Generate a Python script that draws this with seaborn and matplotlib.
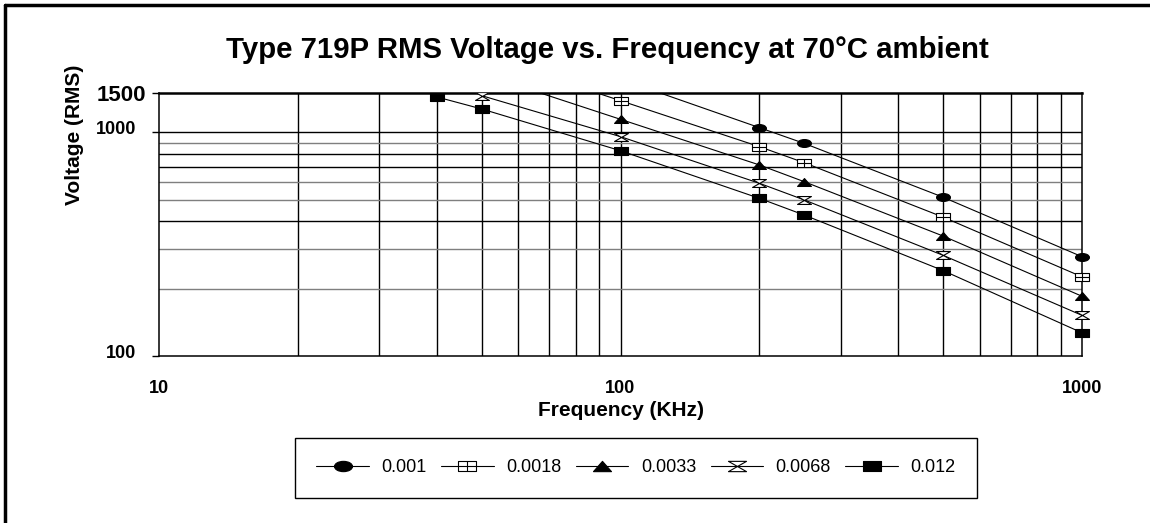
import numpy as np
import pandas as pd
import matplotlib
matplotlib.use("Agg")
import matplotlib.pyplot as plt
import seaborn as sns
from matplotlib.path import Path
from matplotlib.lines import Line2D
from matplotlib.ticker import FixedLocator, NullFormatter, NullLocator
from matplotlib.transforms import ScaledTranslation, Bbox, TransformedBbox

# ---------------- data ----------------
series_labels = ["0.001", "0.0018", "0.0033", "0.0068", "0.012"]
freq_0001 = [100, 200, 250, 500, 1000]
volt_0001 = [1730, 1050, 893, 513, 278]
freq_0018 = [50, 100, 200, 250, 500, 1000]
volt_0018 = [2220, 1386, 863, 732, 418, 226]
freq_0033 = [50, 100, 200, 250, 500, 1000]
volt_0033 = [1830, 1144, 715, 602, 344, 185]
freq_0068 = [50, 100, 200, 250, 500, 1000]
volt_0068 = [1460, 957, 592, 499, 282, 152]
freq_012 = [40, 50, 100, 200, 250, 500, 1000]
volt_012 = [1440, 1273, 828, 507, 427, 241, 127]

y_tick_values = [100, 1000, 1500]
y_tick_labels = ["100", "1000", "1500"]
x_tick_values = [10, 100, 1000]
x_tick_labels = ["10", "100", "1000"]

title_text = "Type 719P RMS Voltage vs. Frequency at 70°C ambient"
x_label = "Frequency (KHz)"
y_label = "Voltage (RMS)"

freqs = [freq_0001, freq_0018, freq_0033, freq_0068, freq_012]
volts = [volt_0001, volt_0018, volt_0033, volt_0068, volt_012]
frames = []
for lab, f, v in zip(series_labels, freqs, volts):
    frames.append(pd.DataFrame({"freq": f, "volt": v, "series": lab}))
df = pd.concat(frames, ignore_index=True)

# ---------------- style ----------------
sns.set_theme(style="white")
plt.rcParams["font.family"] = ["Liberation Sans", "DejaVu Sans"]
for k in ["text.color", "axes.labelcolor", "xtick.color", "ytick.color"]:
    plt.rcParams[k] = "black"

fig = plt.figure(figsize=(11.5, 5.23), dpi=100)
ax = fig.add_axes([159 / 1150, 1 - 356 / 523, (1082 - 159) / 1150, (356 - 93) / 523])
ax.set_xscale("log")
ax.set_yscale("log")
ax.set_xlim(10, 1000)
ax.set_ylim(100, 1500)

# ---------------- markers ----------------
a = 0.57
ell = Path.unit_circle()
ell = Path(ell.vertices * np.array([1.0, a]), ell.codes)
boxplus = Path(
    [(-1, -a), (1, -a), (1, a), (-1, a), (-1, -a), (0, -a), (0, a), (-1, 0), (1, 0)],
    [Path.MOVETO, Path.LINETO, Path.LINETO, Path.LINETO, Path.CLOSEPOLY,
     Path.MOVETO, Path.LINETO, Path.MOVETO, Path.LINETO])
tri = Path([(-1, -a), (1, -a), (0, a), (-1, -a)],
           [Path.MOVETO, Path.LINETO, Path.LINETO, Path.CLOSEPOLY])
hour = Path([(-1, a), (1, a), (-1, -a), (1, -a), (-1, a)],
            [Path.MOVETO, Path.LINETO, Path.LINETO, Path.LINETO, Path.CLOSEPOLY])
rect = Path([(-1, -a), (1, -a), (1, a), (-1, a), (-1, -a)],
            [Path.MOVETO, Path.LINETO, Path.LINETO, Path.LINETO, Path.CLOSEPOLY])
markers = [ell, boxplus, tri, hour, rect]
faces = ["black", "white", "black", "white", "black"]

# ---------------- grid ----------------
minor_x = [20, 30, 40, 50, 60, 70, 80, 90, 100, 200, 300, 400, 500, 600, 700, 800, 900]
for xv in minor_x:
    ax.axvline(xv, color="black", lw=1.0, zorder=1)
h_lines = [200, 300, 400, 500, 600, 700, 800, 900, 1000]
h_cols = ["#7f7f7f", "#7f7f7f", "black", "#7f7f7f", "#7f7f7f", "black", "black", "#7f7f7f", "black"]
for yv, c in zip(h_lines, h_cols):
    ax.axhline(yv, color=c, lw=1.0, zorder=1)

# ---------------- series ----------------
clip = TransformedBbox(Bbox([[-0.05, 0.0], [1.05, 1.0]]), ax.transAxes)
handles = []
for lab, m, fc in zip(series_labels, markers, faces):
    sub = df[df["series"] == lab]
    sns.lineplot(data=sub, x="freq", y="volt", ax=ax, color="black", lw=0.8,
                 marker=m, markersize=10, markerfacecolor=fc,
                 markeredgecolor="black", markeredgewidth=0.8,
                 estimator=None, sort=True, legend=False, zorder=3)
    ln = ax.lines[-1]
    ln.set_clip_box(clip)
    handles.append(Line2D([], [], color="black", lw=0.8, marker=m, markersize=13,
                          markerfacecolor=fc, markeredgecolor="black",
                          markeredgewidth=0.8, label=lab))

# ---------------- axes cosmetics ----------------
for side in ["left", "bottom", "right"]:
    ax.spines[side].set_color("black")
    ax.spines[side].set_linewidth(1.1)
ax.spines["top"].set_color("black")
ax.spines["top"].set_linewidth(1.8)

ax.xaxis.set_major_locator(FixedLocator(x_tick_values))
ax.xaxis.set_minor_locator(NullLocator())
ax.xaxis.set_minor_formatter(NullFormatter())
ax.set_xticks(x_tick_values, x_tick_labels, fontsize=13, fontweight="bold")
ax.tick_params(axis="x", length=0, pad=17)

ax.yaxis.set_minor_locator(NullLocator())
ax.yaxis.set_minor_formatter(NullFormatter())
ax.set_yticks(y_tick_values, y_tick_labels, fontsize=13, fontweight="bold")
ax.tick_params(axis="y", length=5, width=1, direction="out", pad=11.5, left=True)
yt = ax.yaxis.get_major_ticks()
yt[2].label1.set_fontsize(16)
yt[2].set_pad(4.5)
off = ScaledTranslation(0, 5 / 100, fig.dpi_scale_trans)
for t in yt[:2]:
    t.label1.set_transform(t.label1.get_transform() + off)

ax.set_xlabel(x_label, fontsize=15, fontweight="bold", labelpad=3)
ax.set_ylabel("")
fig.text(74 / 1150, 1 - 135 / 523, y_label, rotation=90, fontsize=15,
         fontweight="bold", ha="center", va="center")

fig.text(607 / 1150, 1 - 58 / 523, title_text, fontsize=21.2, fontweight="bold",
         ha="center", va="baseline")

# ---------------- legend ----------------
leg = fig.legend(handles=handles, loc="center", ncol=5,
                 bbox_to_anchor=((297 + 975) / 2 / 1150, 1 - 468 / 523),
                 fontsize=13, frameon=True, fancybox=False, framealpha=1,
                 edgecolor="black", handlelength=2.9, handletextpad=0.7,
                 columnspacing=0.8, borderpad=1.2)
leg.get_frame().set_linewidth(1.0)

# ---------------- figure border ----------------
fig.add_artist(Line2D([5 / 1150, 5 / 1150], [0, 1 - 5 / 523], transform=fig.transFigure,
                      color="black", lw=2.5))
fig.add_artist(Line2D([5 / 1150, 1], [1 - 5 / 523, 1 - 5 / 523], transform=fig.transFigure,
                      color="black", lw=2.5))

fig.savefig("out.png", dpi=100)
